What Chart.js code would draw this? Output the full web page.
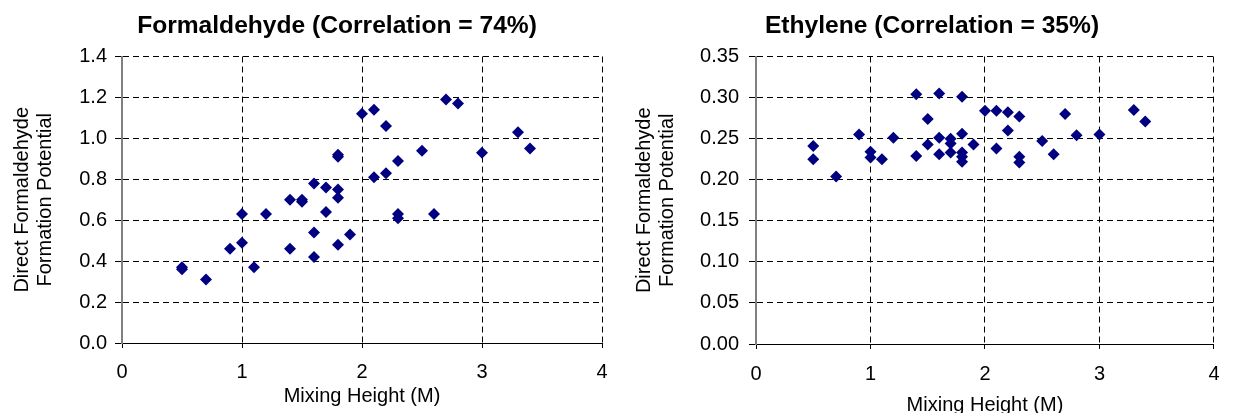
<!DOCTYPE html>
<html>
<head>
<meta charset="utf-8">
<script src="https://cdn.jsdelivr.net/npm/chart.js@4.4.0/dist/chart.umd.min.js"></script>
<style>
  html, body { margin: 0; padding: 0; background: #fff; overflow: hidden; width: 1233px; height: 413px; }
  .panel { position: absolute; top: 0; }
  #left { left: 0; width: 674px; height: 413px; }
  #right { left: 631px; width: 602px; height: 430px; }
  canvas { display: block; }
</style>
</head>
<body>
<div class="panel" id="left"><canvas id="formaldehyde" width="674" height="413"></canvas></div>
<div class="panel" id="right"><canvas id="ethylene" width="602" height="430"></canvas></div>
<script>
// Mixing height (M) for each sample
const formaldehydeX = [0.5, 0.5, 0.7, 0.9, 1.0, 1.0, 1.1, 1.2, 1.4, 1.4, 1.5, 1.5, 1.6, 1.6, 1.6, 1.7, 1.7,
  1.8, 1.8, 1.8, 1.8, 1.8, 1.9, 2.0, 2.1, 2.1, 2.2, 2.2, 2.3, 2.3, 2.3, 2.5, 2.6, 2.7, 2.8, 3.0, 3.3, 3.4];
// Direct formaldehyde formation potential
const formaldehydeY = [0.36, 0.37, 0.31, 0.46, 0.49, 0.63, 0.37, 0.63, 0.70, 0.46, 0.69, 0.70, 0.78, 0.54, 0.42, 0.76, 0.64,
  0.91, 0.92, 0.75, 0.71, 0.48, 0.53, 1.12, 1.14, 0.81, 1.06, 0.83, 0.89, 0.63, 0.61, 0.94, 0.63, 1.19, 1.17, 0.93, 1.03, 0.95];

const ethyleneX = [0.5, 0.5, 0.7, 0.9, 1.0, 1.0, 1.1, 1.2, 1.4, 1.4, 1.5, 1.5, 1.6, 1.6, 1.6, 1.7, 1.7, 1.7,
  1.8, 1.8, 1.8, 1.8, 1.8, 1.9, 2.0, 2.1, 2.1, 2.2, 2.2, 2.3, 2.3, 2.3, 2.5, 2.6, 2.7, 2.8, 3.0, 3.3, 3.4];
const ethyleneY = [0.241, 0.225, 0.204, 0.255, 0.234, 0.227, 0.225, 0.251, 0.304, 0.229, 0.274, 0.243, 0.305, 0.251, 0.231, 0.250, 0.244, 0.233,
  0.301, 0.256, 0.233, 0.228, 0.222, 0.243, 0.284, 0.284, 0.238, 0.282, 0.260, 0.277, 0.228, 0.221, 0.247, 0.231, 0.280, 0.254, 0.255, 0.285, 0.271];

// Axis ticks
const xTickValues = [0, 1, 2, 3, 4];
const xTickLabels = ['0', '1', '2', '3', '4'];
const formaldehydeTickValues = [0, 0.2, 0.4, 0.6, 0.8, 1.0, 1.2, 1.4];
const formaldehydeTickLabels = ['0.0', '0.2', '0.4', '0.6', '0.8', '1.0', '1.2', '1.4'];
const ethyleneTickValues = [0, 0.05, 0.10, 0.15, 0.20, 0.25, 0.30, 0.35];
const ethyleneTickLabels = ['0.00', '0.05', '0.10', '0.15', '0.20', '0.25', '0.30', '0.35'];

const FONT = "'Liberation Sans', Arial, sans-serif";
const MARKER = '#000080';

function points(xs, ys) {
  return xs.map((x, i) => ({ x: x, y: ys[i] }));
}

function buildChart(id, s) {
  return new Chart(document.getElementById(id), {
    type: 'scatter',
    data: {
      datasets: [{
        data: points(s.xs, s.ys),
        pointStyle: 'rectRot',
        pointRadius: 6,
        pointHoverRadius: 6,
        pointBorderWidth: 0,
        backgroundColor: MARKER,
        borderColor: MARKER
      }]
    },
    options: {
      responsive: false,
      animation: false,
      events: [],
      layout: { padding: 0 },
      plugins: {
        legend: { display: false },
        tooltip: { enabled: false },
        title: {
          display: true,
          text: s.title,
          color: '#000',
          font: { family: FONT, size: s.titleSize, weight: 'bold', lineHeight: 1.2 },
          padding: { top: 11, bottom: 16 }
        }
      },
      scales: {
        x: {
          type: 'linear',
          min: 0, max: 4,
          afterBuildTicks: (sc) => { sc.ticks = xTickValues.map(v => ({ value: v })); },
          afterFit: (sc) => { sc.height = s.xHeight; },
          ticks: {
            color: '#000',
            font: { family: FONT, size: 20, lineHeight: 1.2 },
            padding: s.xTickPad,
            maxRotation: 0,
            callback: (v, i) => xTickLabels[i]
          },
          grid: { color: '#000', lineWidth: 1, tickLength: 5, tickColor: '#000', tickBorderDash: [] },
          border: { display: true, color: '#000', width: 1, dash: [6, 4] },
          title: {
            display: true,
            text: 'Mixing Height (M)',
            color: '#000',
            font: { family: FONT, size: 20, lineHeight: 1.2 },
            padding: { top: 0, bottom: s.xTitlePad }
          }
        },
        y: {
          type: 'linear',
          min: 0, max: s.yMax,
          afterBuildTicks: (sc) => { sc.ticks = s.yTicks.map(v => ({ value: v })); },
          afterFit: (sc) => { sc.width = s.yWidth; },
          ticks: {
            color: '#000',
            font: { family: FONT, size: 20, lineHeight: 1.2 },
            padding: s.yTickPad,
            callback: (v, i) => s.yLabels[i]
          },
          grid: { color: '#000', lineWidth: 1, tickLength: 7, tickColor: '#000', tickBorderDash: [] },
          border: { display: true, color: '#808080', width: 2, dash: [6, 4] },
          title: {
            display: true,
            text: ['Direct Formaldehyde', 'Formation Potential'],
            color: '#000',
            font: { family: FONT, size: 20, lineHeight: 1.15 },
            padding: { top: s.yTitlePad, bottom: 0 }
          }
        },
        // empty right-hand margin scale: keeps the title centred on the whole panel
        margin: {
          type: 'linear',
          position: 'right',
          display: true,
          afterFit: (sc) => { sc.width = s.rightMargin; },
          ticks: { display: false },
          grid: { display: false, drawOnChartArea: false, drawTicks: false },
          border: { display: false },
          title: { display: false }
        }
      }
    }
  });
}

buildChart('formaldehyde', {
  xs: formaldehydeX, ys: formaldehydeY,
  title: 'Formaldehyde (Correlation = 74%)', titleSize: 24.6,
  yMax: 1.4, yTicks: formaldehydeTickValues, yLabels: formaldehydeTickLabels,
  rightMargin: 72, xHeight: 70, yWidth: 122,
  xTickPad: 12, xTitlePad: 4.5, yTickPad: 8, yTitlePad: 11
});

buildChart('ethylene', {
  xs: ethyleneX, ys: ethyleneY,
  title: 'Ethylene (Correlation = 35%)', titleSize: 24.6,
  yMax: 0.35, yTicks: ethyleneTickValues, yLabels: ethyleneTickLabels,
  rightMargin: 7, xHeight: 86, yWidth: 125,
  xTickPad: 13.5, xTitlePad: 13, yTickPad: 10, yTitlePad: 2
});
</script>
</body>
</html>
